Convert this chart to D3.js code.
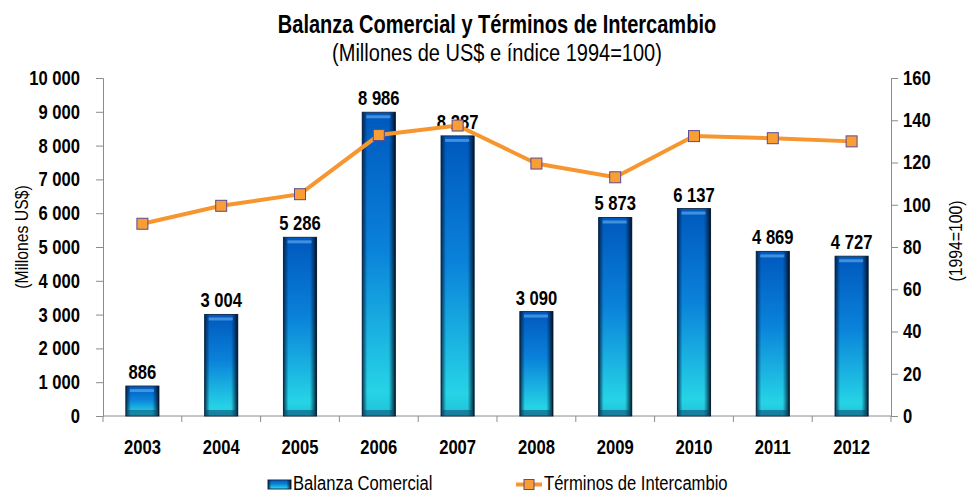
<!DOCTYPE html>
<meta charset="utf-8">
<title>Balanza Comercial y Términos de Intercambio</title>
<style>
  body { margin: 0; background: #fff; }
  svg text { font-family: "Liberation Sans", Arial, sans-serif; fill: #000; }
</style>
<body>
<div id="chart"></div>
<script src="https://d3js.org/d3.v7.min.js"></script>
<script>

// data
var years = ["2003", "2004", "2005", "2006", "2007", "2008", "2009", "2010", "2011", "2012"];
var balanza = [886, 3004, 5286, 8986, 8287, 3090, 5873, 6137, 4869, 4727];
var terminos = [91, 99.5, 105, 133, 137.5, 119.5, 113, 132.5, 131.5, 130];
var leftTicks = [0, 1000, 2000, 3000, 4000, 5000, 6000, 7000, 8000, 9000, 10000];
var rightTicks = [0, 20, 40, 60, 80, 100, 120, 140, 160];

var W = 967, H = 493;
var margin = {top: 78, right: 76, bottom: 77, left: 103};
var width = W - margin.left - margin.right,
    height = H - margin.top - margin.bottom;
var cx = margin.left + width / 2;

// squeeze Liberation Sans glyphs to look like a narrow face
function narrow(sel, f) {
  sel.each(function() {
    var w = this.getComputedTextLength();
    this.setAttribute("textLength", w * f);
    this.setAttribute("lengthAdjust", "spacingAndGlyphs");
  });
}
var NF = 0.83;
var spaced = function(d) { return d3.format(",")(d).replace(/,/g, " "); };

var svg = d3.select("#chart").append("svg")
    .attr("width", W).attr("height", H);

var defs = svg.append("defs");
var gv = defs.append("linearGradient").attr("id", "barV")
    .attr("x1", 0).attr("y1", 0).attr("x2", 0).attr("y2", 1);
gv.append("stop").attr("offset", "0%").attr("stop-color", "#0058bd");
gv.append("stop").attr("offset", "45%").attr("stop-color", "#0a82da");
gv.append("stop").attr("offset", "92%").attr("stop-color", "#26d4e6");
gv.append("stop").attr("offset", "100%").attr("stop-color", "#1fc0d8");
var gh = defs.append("linearGradient").attr("id", "barH")
    .attr("x1", 0).attr("y1", 0).attr("x2", 1).attr("y2", 0);
gh.append("stop").attr("offset", "0%").attr("stop-color", "#021c3a").attr("stop-opacity", 0.85);
gh.append("stop").attr("offset", "15%").attr("stop-color", "#021c3a").attr("stop-opacity", 0);
gh.append("stop").attr("offset", "80%").attr("stop-color", "#021c3a").attr("stop-opacity", 0);
gh.append("stop").attr("offset", "100%").attr("stop-color", "#000814").attr("stop-opacity", 0.9);

var g = svg.append("g").attr("transform", "translate(" + margin.left + "," + margin.top + ")");

var x = d3.scaleBand().domain(years).range([0, width]).padding(0);
var y = d3.scaleLinear().domain([0, 10000]).range([height, 0]);
var y2 = d3.scaleLinear().domain([0, 160]).range([height, 0]);
var barW = x.bandwidth() * 0.42;

// axes
var axisColor = "#8c8c8c";
var left = g.append("g").call(d3.axisLeft(y).tickValues(leftTicks).tickSize(7).tickPadding(16)
    .tickFormat(spaced));
var right = g.append("g").attr("transform", "translate(" + width + ",0)")
    .call(d3.axisRight(y2).tickValues(rightTicks).tickSize(7).tickPadding(5));
var bottom = g.append("g").attr("transform", "translate(0," + height + ")")
    .call(d3.axisBottom(x).tickSize(0).tickPadding(24));
// category separator ticks
g.append("g").selectAll("line").data(years.concat(["end"])).enter().append("line")
    .attr("x1", function(d, i) { return i * x.step(); })
    .attr("x2", function(d, i) { return i * x.step(); })
    .attr("y1", height).attr("y2", height + 6)
    .attr("stroke", axisColor);

[left, right, bottom].forEach(function(a) {
  a.selectAll("path, line").attr("stroke", axisColor);
  a.selectAll("text").style("font-size", "20px").style("font-weight", "bold");
  narrow(a.selectAll("text"), NF);
});
bottom.select(".domain").attr("d", "M0,0H" + width);

// bars
var bars = g.append("g").selectAll("g").data(balanza).enter().append("g")
    .attr("transform", function(d, i) {
      return "translate(" + (x(years[i]) + (x.bandwidth() - barW) / 2) + ",0)";
    });
bars.append("rect")
    .attr("y", function(d) { return y(d); })
    .attr("width", barW)
    .attr("height", function(d) { return height - y(d); })
    .attr("fill", "url(#barV)")
    .attr("stroke", "#16324e").attr("stroke-width", 1);
bars.append("rect")
    .attr("y", function(d) { return y(d); })
    .attr("width", barW)
    .attr("height", function(d) { return height - y(d); })
    .attr("fill", "url(#barH)");
bars.append("rect")
    .attr("x", 4).attr("y", function(d) { return y(d) + 3; })
    .attr("width", barW - 9).attr("height", 3)
    .attr("fill", "#5aa8ee").attr("opacity", 0.7);
bars.append("rect")
    .attr("x", 1).attr("y", height - 6)
    .attr("width", barW - 2).attr("height", 6)
    .attr("fill", "#0b4a6e").attr("opacity", 0.55);
var labels = bars.append("text")
    .attr("x", barW / 2)
    .attr("y", function(d) { return y(d) - 7; })
    .attr("text-anchor", "middle")
    .style("font-size", "20px").style("font-weight", "bold")
    .text(spaced);
narrow(labels, NF);

// line
var line = d3.line()
    .x(function(d, i) { return x(years[i]) + x.bandwidth() / 2; })
    .y(function(d) { return y2(d); });
g.append("path").datum(terminos)
    .attr("d", line)
    .attr("fill", "none")
    .attr("stroke", "#f7962e")
    .attr("stroke-width", 4);
var ms = 11;
g.append("g").selectAll("rect").data(terminos).enter().append("rect")
    .attr("x", function(d, i) { return x(years[i]) + x.bandwidth() / 2 - ms / 2; })
    .attr("y", function(d) { return y2(d) - ms / 2; })
    .attr("width", ms).attr("height", ms)
    .attr("fill", "#f99d35")
    .attr("stroke", "#5b4a96").attr("stroke-width", 1);

// titles
var t1 = svg.append("text").attr("x", cx).attr("y", 33).attr("text-anchor", "middle")
    .style("font-size", "26px").style("font-weight", "bold")
    .text("Balanza Comercial y Términos de Intercambio");
var t2 = svg.append("text").attr("x", cx).attr("y", 61).attr("text-anchor", "middle")
    .style("font-size", "23px")
    .text("(Millones de US$ e índice 1994=100)");
narrow(t1, 0.77);
narrow(t2, 0.87);
var t3 = svg.append("text")
    .attr("transform", "translate(28,237) rotate(-90)")
    .attr("text-anchor", "middle").style("font-size", "19px")
    .text("(Millones US$)");
var t4 = svg.append("text")
    .attr("transform", "translate(962,241) rotate(-90)")
    .attr("text-anchor", "middle").style("font-size", "19px")
    .text("(1994=100)");
[t3, t4].forEach(function(t) { narrow(t, NF); });

// legend
var lg = svg.append("g");
lg.append("rect").attr("x", 268).attr("y", 480).attr("width", 23).attr("height", 9)
    .attr("fill", "url(#barV)").attr("stroke", "#16324e");
lg.append("rect").attr("x", 268).attr("y", 480).attr("width", 23).attr("height", 9)
    .attr("fill", "url(#barH)");
lg.append("text").attr("x", 293).attr("y", 490).style("font-size", "20px")
    .text("Balanza Comercial");
lg.append("line").attr("x1", 516).attr("x2", 542).attr("y1", 484.5).attr("y2", 484.5)
    .attr("stroke", "#f7962e").attr("stroke-width", 4);
lg.append("rect").attr("x", 524).attr("y", 479.5).attr("width", 10).attr("height", 10)
    .attr("fill", "#f99d35").attr("stroke", "#5b4a96");
lg.append("text").attr("x", 544).attr("y", 490).style("font-size", "20px")
    .text("Términos de Intercambio");
narrow(lg.selectAll("text"), NF);

</script>
</body>
